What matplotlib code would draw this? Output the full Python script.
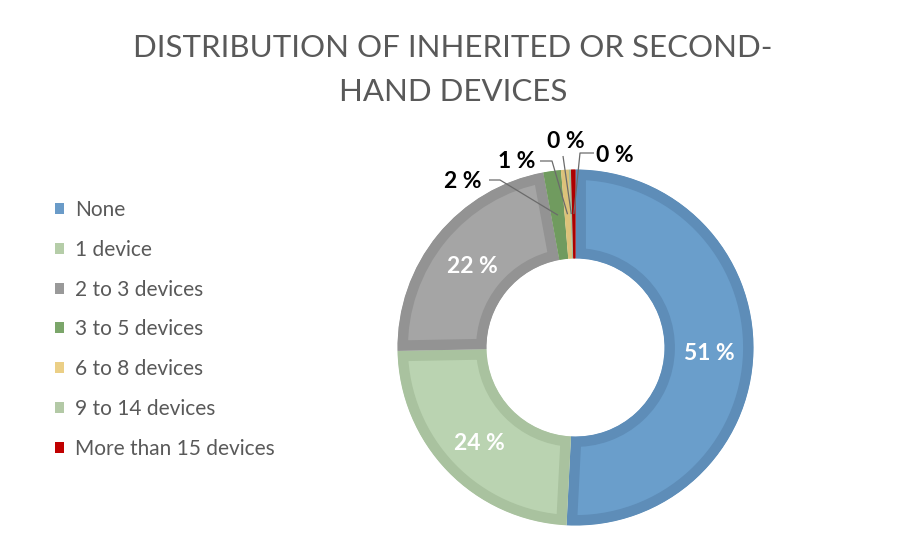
import matplotlib
matplotlib.use("Agg")
import matplotlib.pyplot as plt
from matplotlib.patches import Patch
import numpy as np

plt.rcParams['font.family'] = ['Lato', 'DejaVu Sans']

# share of respondents per number of inherited / second-hand devices (%)
categories = ["None", "1 device", "2 to 3 devices", "3 to 5 devices",
              "6 to 8 devices", "9 to 14 devices", "More than 15 devices"]
shares = [50.8, 23.9, 22.4, 1.6, 0.7, 0.2, 0.4]

fill_colors = ["#6A9ECB", "#BAD3B1", "#A5A5A5", "#7FAA6D", "#EDD38A", "#B7CEAA", "#C00000"]
edge_colors = ["#5E8DB8", "#A9C29F", "#939393", "#709B5F", "#DCC27A", "#A5BC98", "#AD0000"]
legend_colors = ["#6A9BC8", "#B5CDA8", "#999999", "#7BA66A", "#EBCF86", "#B3C9A6", "#C00000"]

W, H = 902, 533
cx, cy = 575.5, H - 347.5
r_out, ring = 178, 89

fig = plt.figure(figsize=(W / 100, H / 100), dpi=100)
ax = fig.add_axes([0, 0, 1, 1])

wedges, _ = ax.pie(shares, colors=fill_colors, startangle=90, counterclock=False,
                   center=(cx, cy), radius=r_out,
                   wedgeprops=dict(width=ring, linewidth=15, joinstyle="miter"))
# dark rim kept inside each slice
for w, ec in zip(wedges, edge_colors):
    w.set_edgecolor(ec)
    w.set_clip_on(True)
    w.set_clip_path(w)

ax.set_xlim(0, W)
ax.set_ylim(0, H)
ax.set_aspect("equal")
ax.axis("off")

# angle (radians, clockwise from 12 o'clock) at the middle of each slice
cum = np.cumsum([0] + shares[:-1])
mid = (cum + np.array(shares) / 2) / sum(shares) * 2 * np.pi
r_mid = r_out - ring / 2
labels = [f"{round(v)} %" for v in shares]

# big slices: white labels inside the ring
for i in range(3):
    ax.text(cx + r_mid * np.sin(mid[i]), cy + r_mid * np.cos(mid[i]) - 3, labels[i],
            color="white", fontsize=16.5, fontweight="bold", ha="center", va="center")

# small slices: labels outside with leader lines
outside = {3: ((463, 182), (489, 180), (500, 180)),
           4: ((517, 161), (540, 161), (552, 161)),
           5: ((566, 142), (563, 156), (563, 156)),
           6: ((615, 155), (594, 153), (580, 153))}
for i, (txt_xy, start, elbow) in outside.items():
    ax.text(txt_xy[0], H - txt_xy[1], labels[i], color="black", fontsize=16.5,
            fontweight="bold", ha="center", va="center")
    ax_x = cx + r_mid * np.sin(mid[i])
    ax_y = cy + r_mid * np.cos(mid[i])
    ax.plot([start[0], elbow[0], ax_x], [H - start[1], H - elbow[1], ax_y],
            color="#6B6B6B", linewidth=0.9, solid_capstyle="butt")

fig.text(453 / W, 1 - 70 / H, "DISTRIBUTION OF INHERITED OR SECOND-\nHAND DEVICES",
         ha="center", va="center", fontsize=22.5, color="#595959", linespacing=1.68)

handles = [Patch(facecolor=c, edgecolor="none") for c in legend_colors]
fig.legend(handles, categories, loc="upper left", bbox_to_anchor=(55 / W, 1 - 200 / H),
           frameon=False, fontsize=15, labelcolor="#595959",
           handlelength=0.43, handleheight=0.43, handletextpad=0.55,
           labelspacing=0.95, borderpad=0, borderaxespad=0)

fig.savefig("out.png", dpi=100)
